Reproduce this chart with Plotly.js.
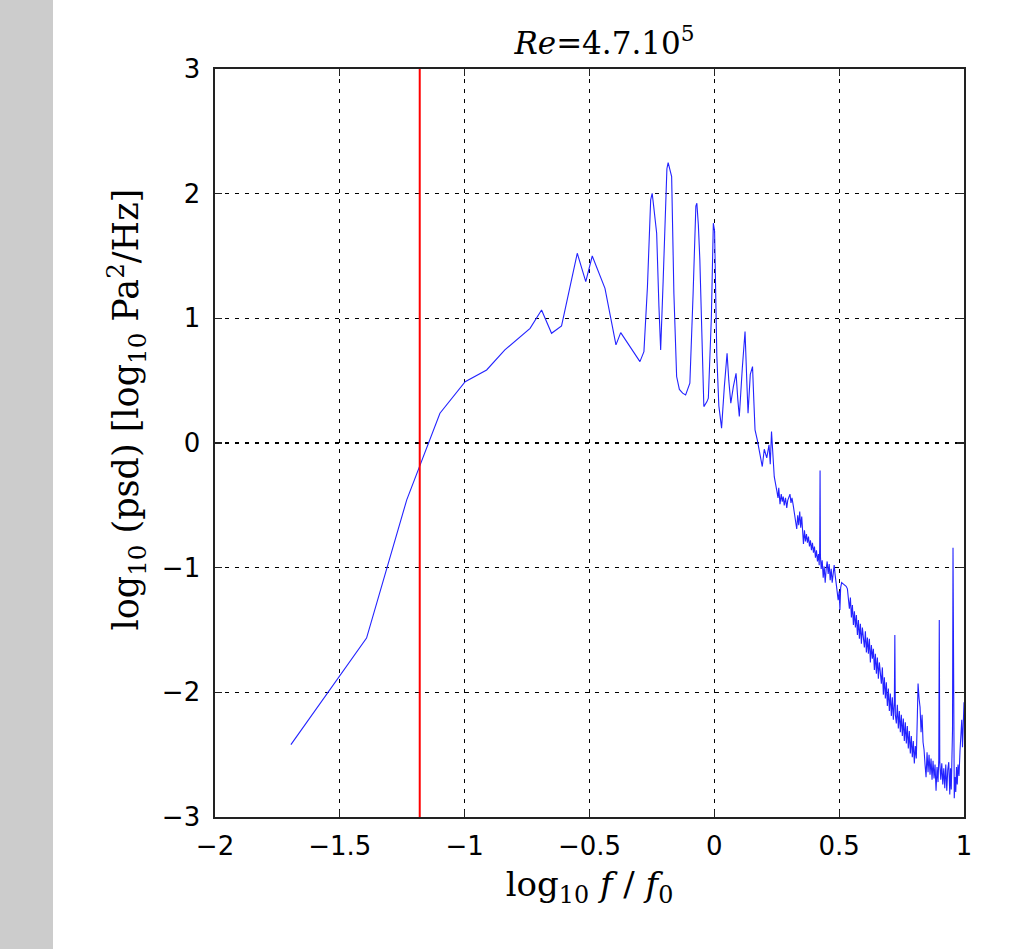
<!DOCTYPE html>
<html>
<head>
<meta charset="utf-8">
<script src="https://cdn.plot.ly/plotly-3.0.1.min.js"></script>
<style>
  html, body { margin: 0; padding: 0; background: #ffffff; }
  #strip { position: absolute; left: 0; top: 0; width: 53px; height: 949px; background: #cccccc; }
  #chart { position: absolute; left: 0; top: 0; width: 1018px; height: 949px; }
</style>
</head>
<body>
<div id="strip"></div>
<div id="chart"></div>
<script>
// log10(f/f0) values
const freqLog = [
  -1.696, -1.393, -1.232, -1.180, -1.099, -0.998, -0.912, -0.839, -0.738, -0.692,
  -0.652, -0.612, -0.549, -0.515, -0.489, -0.438, -0.394, -0.375, -0.338, -0.298,
  -0.282, -0.268, -0.255, -0.249, -0.243, -0.231, -0.222, -0.215, -0.205, -0.195,
  -0.190, -0.185, -0.178, -0.171, -0.162, -0.151, -0.140, -0.127, -0.115, -0.104,
  -0.098, -0.085, -0.074, -0.070, -0.064, -0.058, -0.050, -0.042, -0.030, -0.024,
  -0.012, -0.004, 0.001, 0.004, 0.010, 0.018, 0.029, 0.040, 0.051, 0.058,
  0.066, 0.076, 0.087, 0.094, 0.100, 0.112, 0.123, 0.130, 0.135, 0.144,
  0.153, 0.158, 0.163, 0.172, 0.182, 0.192, 0.200, 0.210, 0.219, 0.224,
  0.229, 0.234, 0.240, 0.250, 0.255, 0.258, 0.263, 0.268, 0.272, 0.276,
  0.280, 0.285, 0.290, 0.294, 0.298, 0.303, 0.307, 0.311, 0.316, 0.320,
  0.325, 0.330, 0.334, 0.338, 0.342, 0.346, 0.350, 0.354, 0.357, 0.361,
  0.365, 0.369, 0.373, 0.377, 0.381, 0.385, 0.389, 0.393, 0.397, 0.401,
  0.405, 0.409, 0.413, 0.417, 0.420, 0.422, 0.4235, 0.425, 0.428, 0.432,
  0.436, 0.440, 0.444, 0.448, 0.452, 0.456, 0.460, 0.464, 0.468, 0.472,
  0.476, 0.480, 0.484, 0.488, 0.492, 0.496, 0.500, 0.503, 0.506, 0.510,
  0.516, 0.522, 0.528, 0.533, 0.537, 0.541, 0.545, 0.549, 0.553, 0.557,
  0.561, 0.565, 0.569, 0.573, 0.577, 0.581, 0.585, 0.589, 0.593, 0.597,
  0.601, 0.605, 0.609, 0.613, 0.617, 0.621, 0.625, 0.629, 0.633, 0.637,
  0.641, 0.645, 0.649, 0.653, 0.657, 0.661, 0.665, 0.669, 0.673, 0.677,
  0.681, 0.685, 0.689, 0.693, 0.697, 0.701, 0.705, 0.709, 0.713, 0.717,
  0.721, 0.723, 0.725, 0.729, 0.733, 0.737, 0.741, 0.745, 0.749, 0.753,
  0.757, 0.761, 0.765, 0.769, 0.773, 0.777, 0.781, 0.785, 0.789, 0.793,
  0.797, 0.801, 0.805, 0.809, 0.813, 0.816, 0.820, 0.824, 0.828, 0.832,
  0.836, 0.840, 0.844, 0.848, 0.852, 0.856, 0.860, 0.864, 0.868, 0.872,
  0.876, 0.880, 0.884, 0.888, 0.892, 0.896, 0.899, 0.901, 0.903, 0.907,
  0.911, 0.915, 0.919, 0.923, 0.927, 0.931, 0.935, 0.939, 0.943, 0.946,
  0.949, 0.952, 0.954, 0.956, 0.958, 0.961, 0.964, 0.967, 0.970, 0.973,
  0.976, 0.980, 0.984, 0.988, 0.991, 0.994, 0.997, 1.000
];
// log10(psd) values
const psdLog = [
  -2.42, -1.565, -0.456, -0.19, 0.239, 0.492, 0.586, 0.747, 0.92, 1.067,
  0.88, 0.939, 1.522, 1.294, 1.50, 1.241, 0.787, 0.885, 0.774, 0.653,
  0.733, 1.25, 1.95, 2.003, 1.90, 1.682, 1.10, 0.747, 1.30, 1.95,
  2.20, 2.249, 2.20, 2.137, 1.20, 0.533, 0.43, 0.40, 0.386, 0.45,
  0.48, 1.20, 1.90, 1.923, 1.75, 1.468, 0.80, 0.292, 0.33, 0.359,
  1.00, 1.763, 1.70, 1.20, 0.70, 0.30, 0.119, 0.45, 0.72, 0.50,
  0.319, 0.45, 0.559, 0.35, 0.213, 0.60, 0.894, 0.50, 0.239, 0.55,
  0.613, 0.35, 0.105, 0.025, -0.10, -0.189, -0.05, -0.12, -0.015, -0.17,
  0.092, -0.10, -0.27, -0.38, -0.44, -0.36, -0.49, -0.41, -0.47, -0.43,
  -0.50, -0.44, -0.52, -0.46, -0.43, -0.41, -0.48, -0.44, -0.50, -0.56,
  -0.63, -0.69, -0.58, -0.66, -0.55, -0.68, -0.59, -0.74, -0.81, -0.70,
  -0.79, -0.73, -0.80, -0.75, -0.83, -0.78, -0.86, -0.80, -0.88, -0.83,
  -0.92, -0.86, -0.95, -0.89, -0.98, -0.85, -0.22, -0.91, -1.01, -0.94,
  -1.08, -0.99, -1.12, -1.01, -0.95, -1.05, -0.97, -1.10, -1.01, -1.12,
  -1.02, -0.98, -1.06, -1.12, -1.19, -1.26, -1.19, -1.34, -1.16, -1.12,
  -1.13, -1.14, -1.15, -1.17, -1.24,
  -1.33, -1.24, -1.40, -1.30, -1.46, -1.35, -1.48, -1.38, -1.54, -1.42,
  -1.57, -1.45, -1.61, -1.48, -1.56, -1.64, -1.51, -1.68, -1.56, -1.69,
  -1.57, -1.76, -1.62, -1.73, -1.65, -1.82, -1.69, -1.85, -1.72, -1.89,
  -1.76, -1.86, -1.93, -1.80, -2.02, -1.88, -2.05, -1.92, -2.11, -1.97,
  -2.15, -2.01, -2.19, -2.04, -2.22, -2.08, -1.54, -2.18, -2.25, -2.10,
  -2.29, -2.15, -2.32, -2.18, -2.35, -2.21, -2.39, -2.24, -2.41, -2.27,
  -2.45, -2.31, -2.49, -2.35, -2.52, -2.39, -2.57, -2.43, -2.53,
  -2.20, -1.93, -2.05, -2.12, -2.32, -2.18,
  -2.40, -2.46, -2.58, -2.68, -2.48, -2.64, -2.50, -2.66, -2.53, -2.70,
  -2.55, -2.69, -2.58, -2.79, -2.60, -2.72, -2.54, -1.42, -2.56, -2.70,
  -2.57, -2.74, -2.61, -2.77, -2.58, -2.79, -2.62, -2.56, -2.82, -2.61,
  -2.78, -2.52, -2.30, -0.84, -2.45, -2.85, -2.68, -2.80, -2.60, -2.74,
  -2.58, -2.67, -2.47, -2.30, -2.22, -2.44, -2.30, -2.08
];
const cutoffLog = -1.18;           // red vertical marker
const xTickVals = [-2, -1.5, -1, -0.5, 0, 0.5, 1];
const yTickVals = [-3, -2, -1, 0, 1, 2, 3];
const titleText = '<i>Re</i>=4.7.10<sup>5</sup>';
const xTitle = 'log<sub>10</sub> <i>f</i> / <i>f</i><sub>0</sub>';
const yTitle = '&#160;&#160;&#160;&#160;&#160;&#160;log<sub>10</sub> (psd) [log<sub>10</sub> Pa<sup>2</sup>/Hz]';

const trace = {
  x: freqLog, y: psdLog, type: 'scatter', mode: 'lines',
  line: { color: 'rgb(35,35,255)', width: 1.1 },
  hoverinfo: 'x+y', showlegend: false
};

const axisCommon = {
  showline: true, linecolor: '#222222', linewidth: 1.6, mirror: 'ticks',
  ticks: 'inside', ticklen: 7, tickwidth: 1.3, tickcolor: '#222222',
  showgrid: true, gridcolor: '#000000', gridwidth: 1.3, griddash: '4px,6px',
  zeroline: false,
  tickfont: { family: 'DejaVu Sans, Liberation Sans, Arial, sans-serif', size: 26, color: '#000000' }
};

const layout = {
  width: 1018, height: 949,
  margin: { l: 215, r: 54, t: 69, b: 132 },
  paper_bgcolor: 'rgba(0,0,0,0)', plot_bgcolor: '#ffffff',
  title: { text: titleText, x: 0.52, xref: 'paper', xanchor: 'center', y: 0.955, yanchor: 'middle',
           font: { family: 'DejaVu Serif, Liberation Serif, serif', size: 31, color: '#000000' } },
  xaxis: Object.assign({}, axisCommon, {
    range: [-2, 1], tickvals: xTickVals, ticklabelstandoff: 5,
    title: { text: xTitle, standoff: 12,
             font: { family: 'DejaVu Serif, Liberation Serif, serif', size: 34, color: '#000000' } }
  }),
  yaxis: Object.assign({}, axisCommon, {
    range: [-3, 3], tickvals: yTickVals, ticklabelstandoff: 8,
    title: { text: yTitle, standoff: 12,
             font: { family: 'DejaVu Serif, Liberation Serif, serif', size: 35, color: '#000000' } }
  }),
  shapes: [{
    type: 'line', xref: 'x', yref: 'paper', x0: cutoffLog, x1: cutoffLog, y0: 0, y1: 1,
    line: { color: '#ff0000', width: 2 }
  }]
};

Plotly.newPlot('chart', [trace], layout, { displayModeBar: false, staticPlot: true });
</script>
</body>
</html>
